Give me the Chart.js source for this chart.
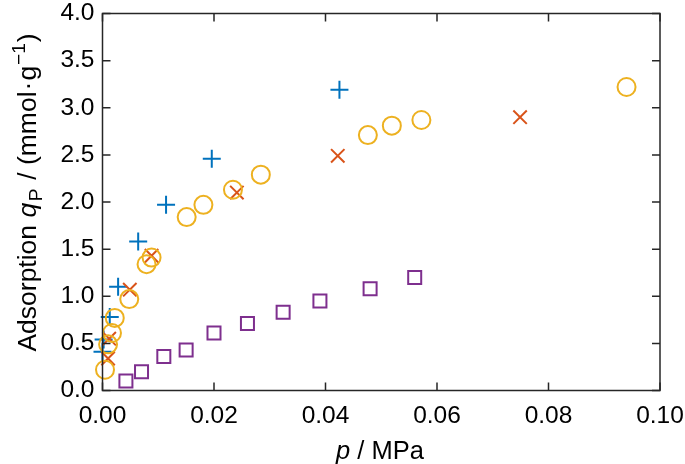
<!DOCTYPE html>
<html>
<head>
<meta charset="utf-8">
<script src="https://cdn.jsdelivr.net/npm/chart.js@4"></script>
<style>
    html, body { margin: 0; padding: 0; background: #fff; }
    #wrap { width: 685px; height: 464px; }
</style>
</head>
<body>
<div id="wrap"><canvas id="scatterChart" width="685" height="464"></canvas></div>
<script>
// =========================
// DATA
// =========================

const xTickValues = [0, 0.02, 0.04, 0.06, 0.08, 0.10];
const yTickValues = [0, 0.5, 1.0, 1.5, 2.0, 2.5, 3.0, 3.5, 4.0];

const plusX = [0, 0.0002, 0.0013, 0.0028, 0.0064, 0.0114, 0.0196, 0.0425];
const plusY = [0.41, 0.54, 0.78, 1.10, 1.58, 1.97, 2.46, 3.19];

const crossX = [0.0010, 0.0012, 0.0049, 0.0088, 0.0241, 0.0422, 0.0749];
const crossY = [0.34, 0.55, 1.07, 1.43, 2.10, 2.49, 2.90];

const circleX = [0.00045, 0.0010, 0.0017, 0.0022, 0.0048, 0.0079, 0.0088, 0.0151, 0.0181, 0.0234, 0.0284, 0.0476, 0.0519, 0.0572, 0.0940];
const circleY = [0.22, 0.49, 0.61, 0.77, 0.97, 1.34, 1.41, 1.84, 1.97, 2.13, 2.29, 2.71, 2.81, 2.87, 3.22];

const squareX = [0.0042, 0.0070, 0.0110, 0.0150, 0.0200, 0.0260, 0.0324, 0.0390, 0.0480, 0.0560];
const squareY = [0.10, 0.20, 0.36, 0.43, 0.61, 0.71, 0.83, 0.95, 1.08, 1.20];

const FONT = "'Liberation Sans', Arial, sans-serif";
const AXIS_COLOR = "#262626";

function pares(xs, ys) {
    return xs.map((x, i) => ({ x: x, y: ys[i] }));
}

function serie(xs, ys, estilo, cor, raio) {
    return {
        data: pares(xs, ys),
        pointStyle: estilo,
        pointRadius: raio,
        pointHoverRadius: raio,
        pointBorderColor: cor,
        pointBackgroundColor: "rgba(0,0,0,0)",
        pointBorderWidth: 2,
        showLine: false,
        clip: false
    };
}

function semPadding(s) {
    s.paddingLeft = 0;
    s.paddingRight = 0;
    s.paddingTop = 0;
    s.paddingBottom = 0;
}

// draws text pieces one after another, centred on (cx, cy)
function desenharPartes(ctx, partes, cx, cy, rot) {
    let total = 0;
    partes.forEach(p => {
        ctx.font = p.f;
        total += ctx.measureText(p.t).width + (p.gap || 0);
    });
    ctx.save();
    ctx.translate(cx, cy);
    ctx.rotate(rot);
    let x = -total / 2;
    partes.forEach(p => {
        ctx.font = p.f;
        x += p.gap || 0;
        ctx.fillText(p.t, x, p.dy || 0);
        x += ctx.measureText(p.t).width;
    });
    ctx.restore();
}

// =========================
// FRAME + INWARD TICKS + TITLES
// =========================

const moldura = {
    id: "moldura",
    afterDraw(chart) {
        const ctx = chart.ctx;
        const a = chart.chartArea;
        const sx = chart.scales.x;
        const sy = chart.scales.y;
        const len = 8;

        ctx.save();
        ctx.strokeStyle = AXIS_COLOR;
        ctx.lineWidth = 1.5;
        ctx.strokeRect(a.left, a.top, a.right - a.left, a.bottom - a.top);

        ctx.beginPath();
        xTickValues.forEach(v => {
            const px = sx.getPixelForValue(v);
            ctx.moveTo(px, a.bottom); ctx.lineTo(px, a.bottom - len);
            ctx.moveTo(px, a.top); ctx.lineTo(px, a.top + len);
        });
        yTickValues.forEach(v => {
            const py = sy.getPixelForValue(v);
            ctx.moveTo(a.left, py); ctx.lineTo(a.left + len, py);
            ctx.moveTo(a.right, py); ctx.lineTo(a.right - len, py);
        });
        ctx.stroke();

        ctx.fillStyle = "#000";
        ctx.textBaseline = "alphabetic";

        desenharPartes(ctx, [
            { t: "p", f: "italic 25.5px " + FONT },
            { t: " / MPa", f: "25.5px " + FONT }
        ], 380, 459, 0);

        desenharPartes(ctx, [
            { t: "Adsorption ", f: "26.5px " + FONT },
            { t: "q", f: "italic 26.5px " + FONT },
            { t: "P", f: "19px " + FONT, dy: 5.5, gap: 1.5 },
            { t: " / (mmol", f: "26.5px " + FONT, gap: 1.5 },
            { t: "\u00b7", f: "26.5px " + FONT, gap: 1 },
            { t: "g", f: "26.5px " + FONT, gap: 1 },
            { t: "\u22121", f: "19px " + FONT, dy: -11, gap: 1 },
            { t: ")", f: "26.5px " + FONT, gap: 1 }
        ], 36, 192.5, -Math.PI / 2);

        ctx.restore();
    }
};

// =========================
// CHART
// =========================

new Chart(document.getElementById("scatterChart"), {

    type: "scatter",

    data: {
        datasets: [
            serie(squareX, squareY, "rect", "#7E2F8E", 9.2),
            serie(circleX, circleY, "circle", "#EDB120", 9),
            serie(crossX, crossY, "crossRot", "#D95319", 9.5),
            serie(plusX, plusY, "cross", "#0072BD", 9)
        ]
    },

    options: {
        responsive: false,
        animation: false,
        events: [],
        layout: {
            padding: { top: 13.5, right: 25, left: 0, bottom: 0 }
        },
        plugins: {
            legend: { display: false },
            tooltip: { enabled: false }
        },
        scales: {
            x: {
                type: "linear",
                min: 0,
                max: 0.1,
                afterBuildTicks: s => { s.ticks = xTickValues.map(v => ({ value: v })); },
                afterFit: s => { s.height = 73.5; semPadding(s); },
                grid: { display: false, drawTicks: false },
                border: { display: false },
                ticks: {
                    padding: 11,
                    color: "#000",
                    font: { family: FONT, size: 24.5 },
                    maxRotation: 0,
                    autoSkip: false,
                    callback: v => v.toFixed(2)
                }
            },
            y: {
                type: "linear",
                min: 0,
                max: 4,
                afterBuildTicks: s => { s.ticks = yTickValues.map(v => ({ value: v })); },
                afterFit: s => { s.width = 102.5; semPadding(s); },
                grid: { display: false, drawTicks: false },
                border: { display: false },
                ticks: {
                    padding: 8,
                    color: "#000",
                    font: { family: FONT, size: 24.5 },
                    autoSkip: false,
                    callback: v => v.toFixed(1)
                }
            }
        }
    },

    plugins: [moldura]

});
</script>
</body>
</html>
